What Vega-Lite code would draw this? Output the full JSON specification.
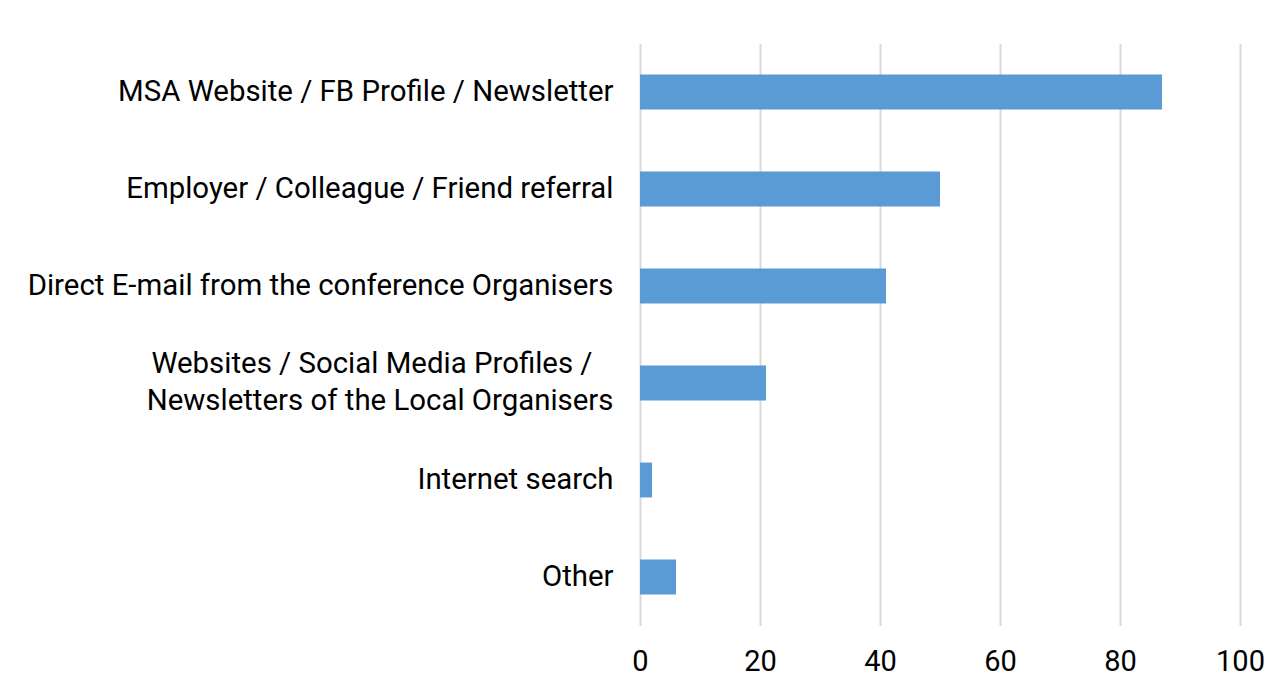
{
  "$schema": "https://vega.github.io/schema/vega-lite/v6.json",
  "autosize": {"type": "none"},
  "width": 600,
  "height": 582,
  "padding": {"left": 640, "top": 43.5, "right": 42, "bottom": 63.5},
  "background": "white",
  "data": {
    "values": [
      {"source": "MSA Website / FB Profile / Newsletter", "count": 87},
      {"source": "Employer / Colleague / Friend referral", "count": 50},
      {"source": "Direct E-mail from the conference Organisers", "count": 41},
      {"source": "Websites / Social Media Profiles /\u2800|Newsletters of the Local Organisers", "count": 21},
      {"source": "Internet search", "count": 2},
      {"source": "Other", "count": 6}
    ]
  },
  "mark": {"type": "bar", "color": "#5b9bd5"},
  "encoding": {
    "y": {
      "field": "source",
      "type": "nominal",
      "sort": null,
      "scale": {"paddingInner": 0.64, "paddingOuter": 0.32},
      "axis": {
        "title": null,
        "domain": false,
        "ticks": false,
        "labelPadding": 27,
        "labelFont": "Roboto",
        "labelFontSize": 29.4,
        "labelColor": "#000000",
        "labelLimit": 0,
        "labelLineHeight": 37,
        "labelOffset": {"condition": {"test": "indexof(datum.value, '|') >= 0", "value": -19}, "value": 0},
        "labelExpr": "split(datum.label, '|')"
      }
    },
    "x": {
      "field": "count",
      "type": "quantitative",
      "scale": {"domain": [0, 100], "nice": false},
      "axis": {
        "title": null,
        "values": [0, 20, 40, 60, 80, 100],
        "domain": false,
        "ticks": false,
        "grid": true,
        "gridColor": "#d9d9d9",
        "gridWidth": 2,
        "labelPadding": 22,
        "labelFont": "Roboto",
        "labelFontSize": 29,
        "labelColor": "#000000",
        "labelFlush": false
      }
    }
  },
  "config": {"view": {"stroke": null}}
}
